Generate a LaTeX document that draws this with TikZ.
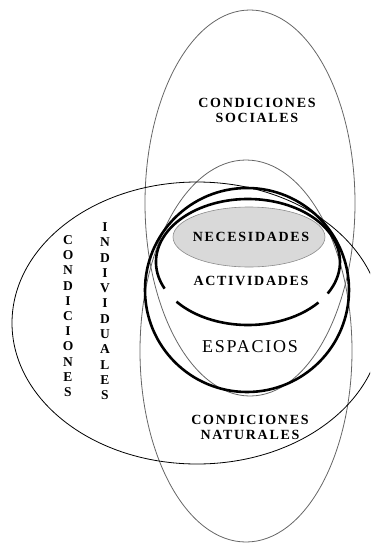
\documentclass[tikz,border=0pt]{standalone}
\usepackage{fontspec}
\setmainfont{Liberation Serif}

\begin{document}
\begin{tikzpicture}[
    x=1pt, y=-1pt,
    thinring/.style={draw=black!60, line width=0.8pt},
    outerring/.style={draw=black, line width=0.8pt},
    thickring/.style={draw=black, line width=2.6pt},
    lbl/.style={
        font=\bfseries\fontsize{14}{15}\selectfont\addfontfeature{LetterSpace=12},
        align=center, inner sep=0pt, text=black
    },
    biglbl/.style={
        font=\fontsize{18}{18}\selectfont\addfontfeature{LetterSpace=10},
        inner sep=0pt, text=black
    },
    vlet/.style={font=\bfseries\fontsize{13.5}{15}\selectfont, inner sep=0pt, text=black}
]
    \useasboundingbox (0,0) rectangle (370,544);
    \clip (0,0) rectangle (370,544);

    % Necesidades (filled, under the rings)
    \fill[black!15] (249,237) ellipse [x radius=76, y radius=30];

    % Condiciones sociales / naturales / individuales
    \draw[thinring] (250,203) ellipse [x radius=105, y radius=193];
    \draw[thinring] (246,351) ellipse [x radius=106, y radius=191];
    \draw[outerring] (197,323) ellipse [x radius=185, y radius=141];

    % Espacios and actividades
    \draw[thickring] (247,290) ellipse [x radius=102, y radius=102];
    \draw[thickring] ([shift={(155:92 and 63)}]248,262)
        arc [start angle=155, end angle=390, x radius=92, y radius=63];
    \draw[thickring] ([shift={(40:92 and 63)}]248,262)
        arc [start angle=40, end angle=141, x radius=92, y radius=63];

    \draw[draw=black!45, line width=0.6pt] (249,237) ellipse [x radius=76, y radius=30];

    % Labels
    \node[lbl] (social) at (257,110) {CONDICIONES\\SOCIALES};
    \node[lbl] (need) at (251,237) {NECESIDADES};
    \node[lbl] (activ) at (251,281) {ACTIVIDADES};
    \node[biglbl] (space) at (250,347) {ESPACIOS};
    \node[lbl] (natural) at (250,427) {CONDICIONES\\NATURALES};

    % Vertical labels
    \foreach \ch [count=\i] in {C,O,N,D,I,C,I,O,N,E,S}
        \node[vlet] (cond\i) at (68,{240+15.2*(\i-1)}) {\ch};
    \foreach \ch [count=\i] in {I,N,D,I,V,I,D,U,A,L,E,S}
        \node[vlet] (indiv\i) at (105,{227+15.3*(\i-1)}) {\ch};

\end{tikzpicture}
\end{document}
